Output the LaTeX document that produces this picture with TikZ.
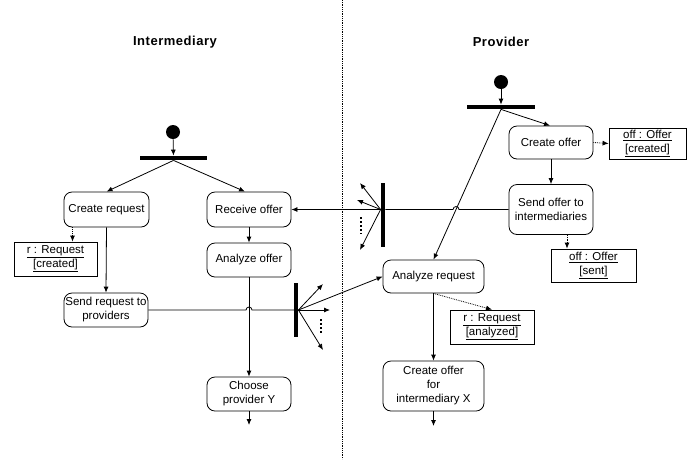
\documentclass[tikz,border=0pt]{standalone}
\usepackage{fontspec}
\setmainfont{Liberation Sans}
\usetikzlibrary{arrows.meta}

\begin{document}
\begin{tikzpicture}[x=1pt,y=-1pt, line width=0.8pt,
  txt/.style={font=\fontsize{11.5}{14}\selectfont},
  act/.style={txt, draw, rounded corners=8pt, align=center, inner sep=1pt},
  obj/.style={txt, draw, align=center, inner sep=1pt},
  lane/.style={font=\fontsize{13}{15}\selectfont\bfseries\addfontfeatures{LetterSpace=4}},
  bar/.style={fill=black, inner sep=0pt},
  start/.style={circle, fill=black, minimum size=14pt, inner sep=0pt},
  flow/.style={-{Latex[length=6pt,width=5pt]}},
  dep/.style={flow, densely dotted},
  gap/.style={dash pattern=on 2pt off 2pt, line width=2pt}]

\useasboundingbox (0,0) rectangle (687,459);

% swimlane divider and lane titles
\draw[densely dotted] (342,0) -- (342,459);
\node[lane] (tI) at (175,42) {Intermediary};
\node[lane] (tP) at (501,42) {Provider};

% ---------- Intermediary ----------
\node[start] (ls) at (173,132) {};
\node[bar, minimum width=67pt, minimum height=4pt] (lb) at (173.5,158) {};
\node[act, minimum width=85pt, minimum height=35pt] (cr) at (106.5,209.5) {Create request};
\node[act, minimum width=84pt, minimum height=35pt] (ro) at (249,209.5) {Receive offer};
\node[act, minimum width=84pt, minimum height=34pt] (ao) at (249,260) {Analyze offer};
\node[obj, minimum width=83pt, minimum height=34pt] (rc) at (55.5,259) {\underline{r : Request}\\\underline{[created]}};
\node[act, minimum width=84pt, minimum height=34pt] (sr) at (106,310) {Send request to\\providers};
\node[act, minimum width=84pt, minimum height=34pt] (cp) at (249,394) {Choose\\provider Y};
\node[bar, minimum width=4pt, minimum height=54pt] (f1) at (296,310) {};
\coordinate (le) at (249,425);
\coordinate (f1a) at (323,284);
\coordinate (f1c) at (330,310);
\coordinate (f1d) at (323,350);

\draw[flow] (ls) -- (lb);
\draw[flow] (lb.south) -- (cr.north);
\draw[flow] (lb.south) -- ([xshift=-4pt]ro.north);
\draw[flow] (cr.south) -- (sr.north);
\draw[dep] ([xshift=-34pt]cr.south) -- ([xshift=-34pt]cr.south |- rc.north);
\draw[flow] (ro.south) -- (ao.north);
\draw[flow] (ao.south) -- (cp.north);
\draw[flow] (cp.south) -- (le);
\coordinate (j1) at (ao.south |- sr.east);
\draw (sr.east) -- ([xshift=-3pt]j1) arc[start angle=180, end angle=360, radius=3] -- (f1.east);
\draw[flow] (f1.east) -- (f1a);
\draw[flow] (f1.east) -- (f1c);
\draw[flow] (f1.east) -- (f1d);
\draw[gap] (321,319) -- (321,334);

% ---------- Provider ----------
\node[start] (rs) at (501,82) {};
\node[bar, minimum width=68pt, minimum height=4pt] (rb) at (501,107) {};
\node[act, minimum width=84pt, minimum height=33pt] (co) at (551,142.5) {Create offer};
\node[obj, minimum width=77pt, minimum height=31pt] (oc) at (647.5,143.5) {\underline{off : Offer}\\\underline{[created]}};
\node[act, minimum width=84pt, minimum height=50pt] (so) at (551,209.5) {Send offer to\\intermediaries};
\node[obj, minimum width=85pt, minimum height=33pt] (os) at (593.5,265.5) {\underline{off : Offer}\\\underline{[sent]}};
\node[act, minimum width=101pt, minimum height=33pt] (ar) at (433.5,276.5) {Analyze request};
\node[obj, minimum width=84pt, minimum height=34pt] (ra) at (492,327) {\underline{r : Request}\\\underline{[analyzed]}};
\node[act, minimum width=101pt, minimum height=50pt] (cx) at (433.5,386) {Create offer\\for\\intermediary X};
\node[bar, minimum width=4pt, minimum height=64pt] (f2) at (383,215) {};
\coordinate (re) at (433.5,426);
\coordinate (f2a) at (360,183);
\coordinate (f2b) at (357,200);
\coordinate (f2d) at (360,250);

\draw[flow] (rs) -- (rb);
\draw[flow] (rb.south) -- ([xshift=-1pt]co.north);
\draw[flow] (rb.south) -- (ar.north);
\draw[dep] (co.east) -- (oc.west);
\draw[flow] (co.south) -- (so.north);
\draw[dep] ([xshift=16pt]so.south) -- ([xshift=16pt]so.south |- os.north);
\coordinate (f2i) at (so.west -| f2.east);
\coordinate (j2) at (intersection of rb.south--ar.north and so.west--f2i);
\draw (so.west) -- ([xshift=3pt]j2) arc[start angle=0, end angle=-180, radius=3] -- (f2i);
\coordinate (f2o) at (ro.east -| f2.west);
\draw[flow] (f2o) -- (ro.east);
\draw[flow] (f2o) -- (f2a);
\draw[flow] (f2o) -- (f2b);
\draw[flow] (f2o) -- (f2d);
\draw[gap] (361,217) -- (361,234);
\draw[flow] (f1.east) -- (ar.west);
\draw[flow] (ar.south) -- (cx.north);
\draw[dep] (ar.south) -- (ra.north);
\draw[flow] (cx.south) -- (re);
\end{tikzpicture}
\end{document}
